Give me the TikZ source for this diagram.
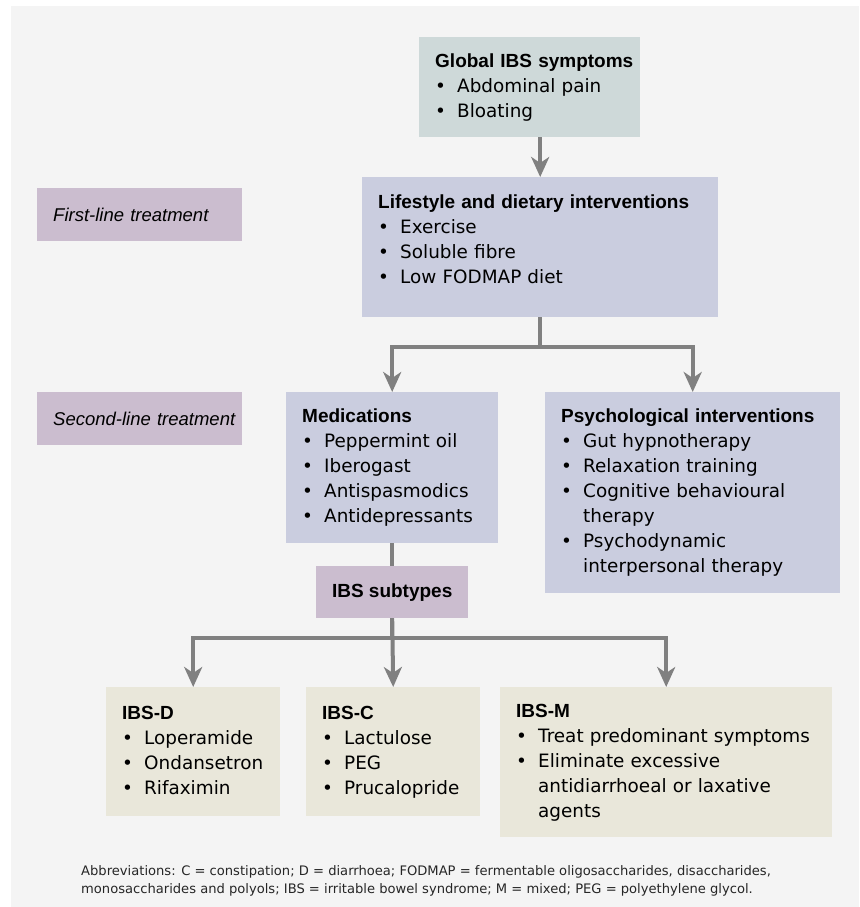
\documentclass[tikz,border=0pt]{standalone}
\usepackage{fontspec}
\setmainfont{DejaVu Sans}
\newfontfamily\hdfont{Liberation Sans}
\usetikzlibrary{arrows.meta}

\definecolor{bgc}{HTML}{F4F4F4}
\definecolor{topc}{HTML}{CED9D9}
\definecolor{lavc}{HTML}{CACDDF}
\definecolor{mauvec}{HTML}{CBBDCF}
\definecolor{beigec}{HTML}{E9E7DA}
\definecolor{arrc}{HTML}{808080}

\newcommand{\ttl}[1]{\mbox{\hdfont\bfseries\fontsize{19}{25}\selectfont #1}}
\newcommand{\itm}[1]{\mbox{\makebox[22pt][l]{\textbullet}#1}}
\newcommand{\cnt}[1]{\mbox{\hspace*{22pt}#1}}

\begin{document}
\begin{tikzpicture}[x=1pt, y=-1pt,
    box/.style={anchor=north west, inner xsep=16pt, inner ysep=0pt, align=left,
      font=\fontsize{18.4}{25}\selectfont,
      execute at begin node=\strut, execute at end node=\strut},
    tag/.style={anchor=north west, fill=mauvec, inner xsep=16pt, inner ysep=0pt,
      text width=173pt, minimum height=53pt, align=left,
      font=\hdfont\itshape\fontsize{18.5}{25}\selectfont},
    link/.style={draw=arrc, line width=4pt},
    conn/.style={link, -{Stealth[length=20pt, width=18pt, inset=6pt]}}]
    \useasboundingbox (0,0) rectangle (859,907);
    \fill[bgc] (11,6) rectangle (859,907);

    \node[box, fill=topc, text width=189pt, minimum height=100pt] (glob) at (419,37)
        {\ttl{Global IBS symptoms}\\ \itm{Abdominal pain}\\ \itm{Bloating}};
    \node[tag] (first) at (37,188) {\mbox{First-line treatment}};
    \node[box, fill=lavc, text width=324pt, inner ysep=13.5pt, text height=17.5pt, text depth=95.5pt] (life) at (362,177)
        {\ttl{Lifestyle and dietary interventions}\\ \itm{Exercise}\\ \itm{Soluble fibre}\\ \itm{Low FODMAP diet}};

    \node[tag] (second) at (37,392) {\mbox{Second-line treatment}};
    \node[box, fill=lavc, text width=180pt, minimum height=151pt] (med) at (286,392)
        {\ttl{Medications}\\ \itm{Peppermint oil}\\ \itm{Iberogast}\\ \itm{Antispasmodics}\\ \itm{Antidepressants}};
    \node[box, fill=lavc, text width=263pt, minimum height=201pt] (psy) at (545,392)
        {\ttl{Psychological interventions}\\ \itm{Gut hypnotherapy}\\ \itm{Relaxation training}\\
         \itm{Cognitive behavioural}\\ \cnt{therapy}\\ \itm{Psychodynamic}\\ \cnt{interpersonal therapy}};

    \node[anchor=north west, fill=mauvec, minimum width=152pt, minimum height=52pt] (sub) at (316,566)
        {\ttl{IBS subtypes}};

    \node[box, fill=beigec, text width=142pt, minimum height=129pt] (ibsd) at (106,687)
        {\ttl{IBS-D}\\ \itm{Loperamide}\\ \itm{Ondansetron}\\ \itm{Rifaximin}};
    \node[box, fill=beigec, text width=142pt, minimum height=129pt] (ibsc) at (306,687)
        {\ttl{IBS-C}\\ \itm{Lactulose}\\ \itm{PEG}\\ \itm{Prucalopride}};
    \node[box, fill=beigec, text width=300pt, minimum height=150pt] (ibsm) at (500,687)
        {\ttl{IBS-M}\\ \itm{Treat predominant symptoms}\\ \itm{Eliminate excessive}\\
         \cnt{antidiarrhoeal or laxative}\\ \cnt{agents}};

    \draw[conn] (glob.south -| life.north) -- (life.north);
    \draw[conn] (life.south) -- ++(0,30) -| (med.north);
    \draw[conn] (life.south) -- ++(0,30) -| (psy.north);
    \draw[link] (med.south) -- (sub.north);
    \draw[conn] (sub.south) -- ++(0,20) -| (ibsd.north);
    \draw[conn] (sub.south) -- (ibsc.north);
    \draw[conn] (sub.south) -- ++(0,20) -| (ibsm.north);

    \node[anchor=north west, inner sep=0pt, align=left, text=black!85,
        font=\fontsize{13.1}{18.5}\selectfont] (note) at (81,865)
        {Abbreviations: C = constipation; D = diarrhoea; FODMAP = fermentable oligosaccharides, disaccharides,\\
         monosaccharides and polyols; IBS = irritable bowel syndrome; M = mixed; PEG = polyethylene glycol.};
\end{tikzpicture}
\end{document}
